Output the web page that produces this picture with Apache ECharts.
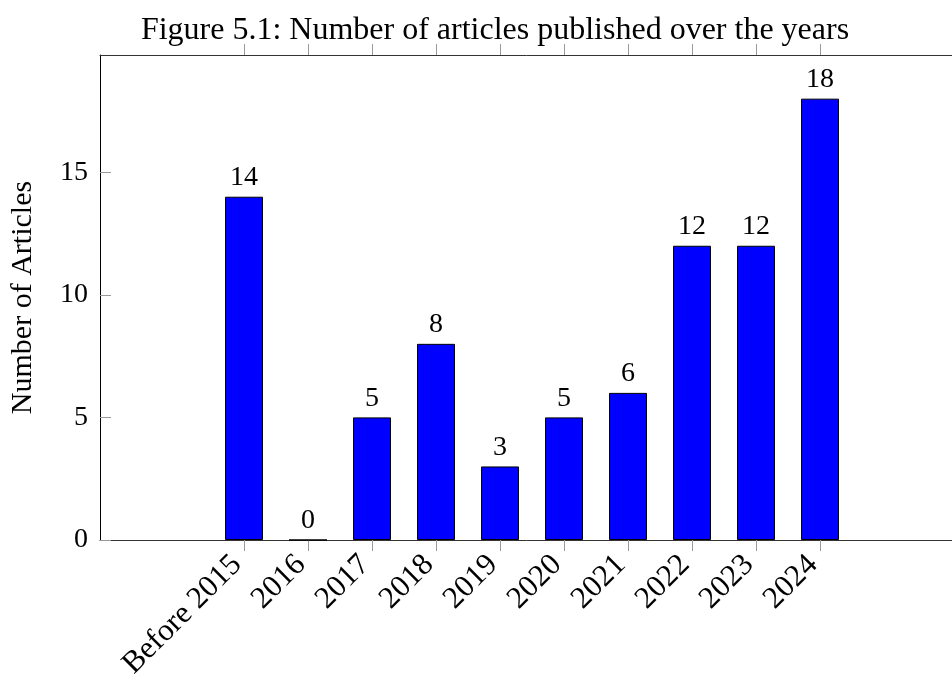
<!DOCTYPE html>
<html>
<head>
<meta charset="utf-8">
<script src="https://cdn.jsdelivr.net/npm/echarts@6/dist/echarts.min.js"></script>
<style>html,body{margin:0;padding:0;background:#fff}#c{width:952px;height:677px}</style>
</head>
<body>
<div id="c"></div>
<script>
var categories = ['Before 2015','2016','2017','2018','2019','2020','2021','2022','2023','2024'];
var counts = [14, 0, 5, 8, 3, 5, 6, 12, 12, 18];
var yTicks = [0, 5, 10, 15];
var titleText = 'Figure 5.1: Number of articles published over the years';
var yName = 'Number of Articles';

var catIdx = categories.map(function(c, i){ return i; });
var FONT = 'Liberation Serif, Times New Roman, serif';
var chart = echarts.init(document.getElementById('c'), null, {renderer: 'canvas'});
chart.setOption({
  backgroundColor: '#fff',
  animation: false,
  title: {
    text: titleText,
    left: 490, textAlign: 'center', top: 10,
    textStyle: {fontFamily: FONT, fontSize: 32, fontWeight: 'normal', color: '#000'}
  },
  grid: {left: 100, top: 55, bottom: 137, right: -12, containLabel: false, outerBoundsMode: 'none'},
  xAxis: [{
    type: 'value', position: 'bottom', min: -2.25, max: 11.25,
    splitLine: {show: false},
    axisLine: {show: true, onZero: false, lineStyle: {color: '#333', width: 1}},
    axisTick: {show: true, inside: false, length: 11, customValues: catIdx, lineStyle: {color: '#999'}},
    axisLabel: {
      show: true, customValues: catIdx, rotate: 45, margin: 13, padding: [0, 10, 0, 0],
      fontFamily: FONT, fontSize: 31, color: '#000',
      formatter: function(v){ return categories[Math.round(v)]; }
    }
  }, {
    type: 'value', position: 'top', min: -2.25, max: 11.25,
    splitLine: {show: false},
    axisLine: {show: true, onZero: false, lineStyle: {color: '#333', width: 1}},
    axisTick: {show: true, inside: false, length: 11, customValues: catIdx, lineStyle: {color: '#999'}},
    axisLabel: {show: false}
  }],
  yAxis: {
    type: 'value', min: 0, max: 19.78,
    name: yName, nameLocation: 'middle', nameGap: 62,
    nameTextStyle: {fontFamily: FONT, fontSize: 30, color: '#000'},
    splitLine: {show: false},
    axisLine: {show: true, onZero: false, lineStyle: {color: '#000', width: 1}},
    axisTick: {show: true, inside: true, length: 11, customValues: yTicks, lineStyle: {color: '#999'}},
    axisLabel: {customValues: yTicks, margin: 12, fontFamily: FONT, fontSize: 28, color: '#000'}
  },
  series: [{
    type: 'bar', xAxisIndex: 0,
    barWidth: 38,
    data: counts.map(function(v, i){ return [i, v]; }),
    itemStyle: {color: '#0000ff', borderColor: '#000', borderWidth: 1},
    label: {show: true, position: 'top', distance: 5, fontFamily: FONT, fontSize: 28, color: '#000'}
  }]
});
</script>
</body>
</html>
